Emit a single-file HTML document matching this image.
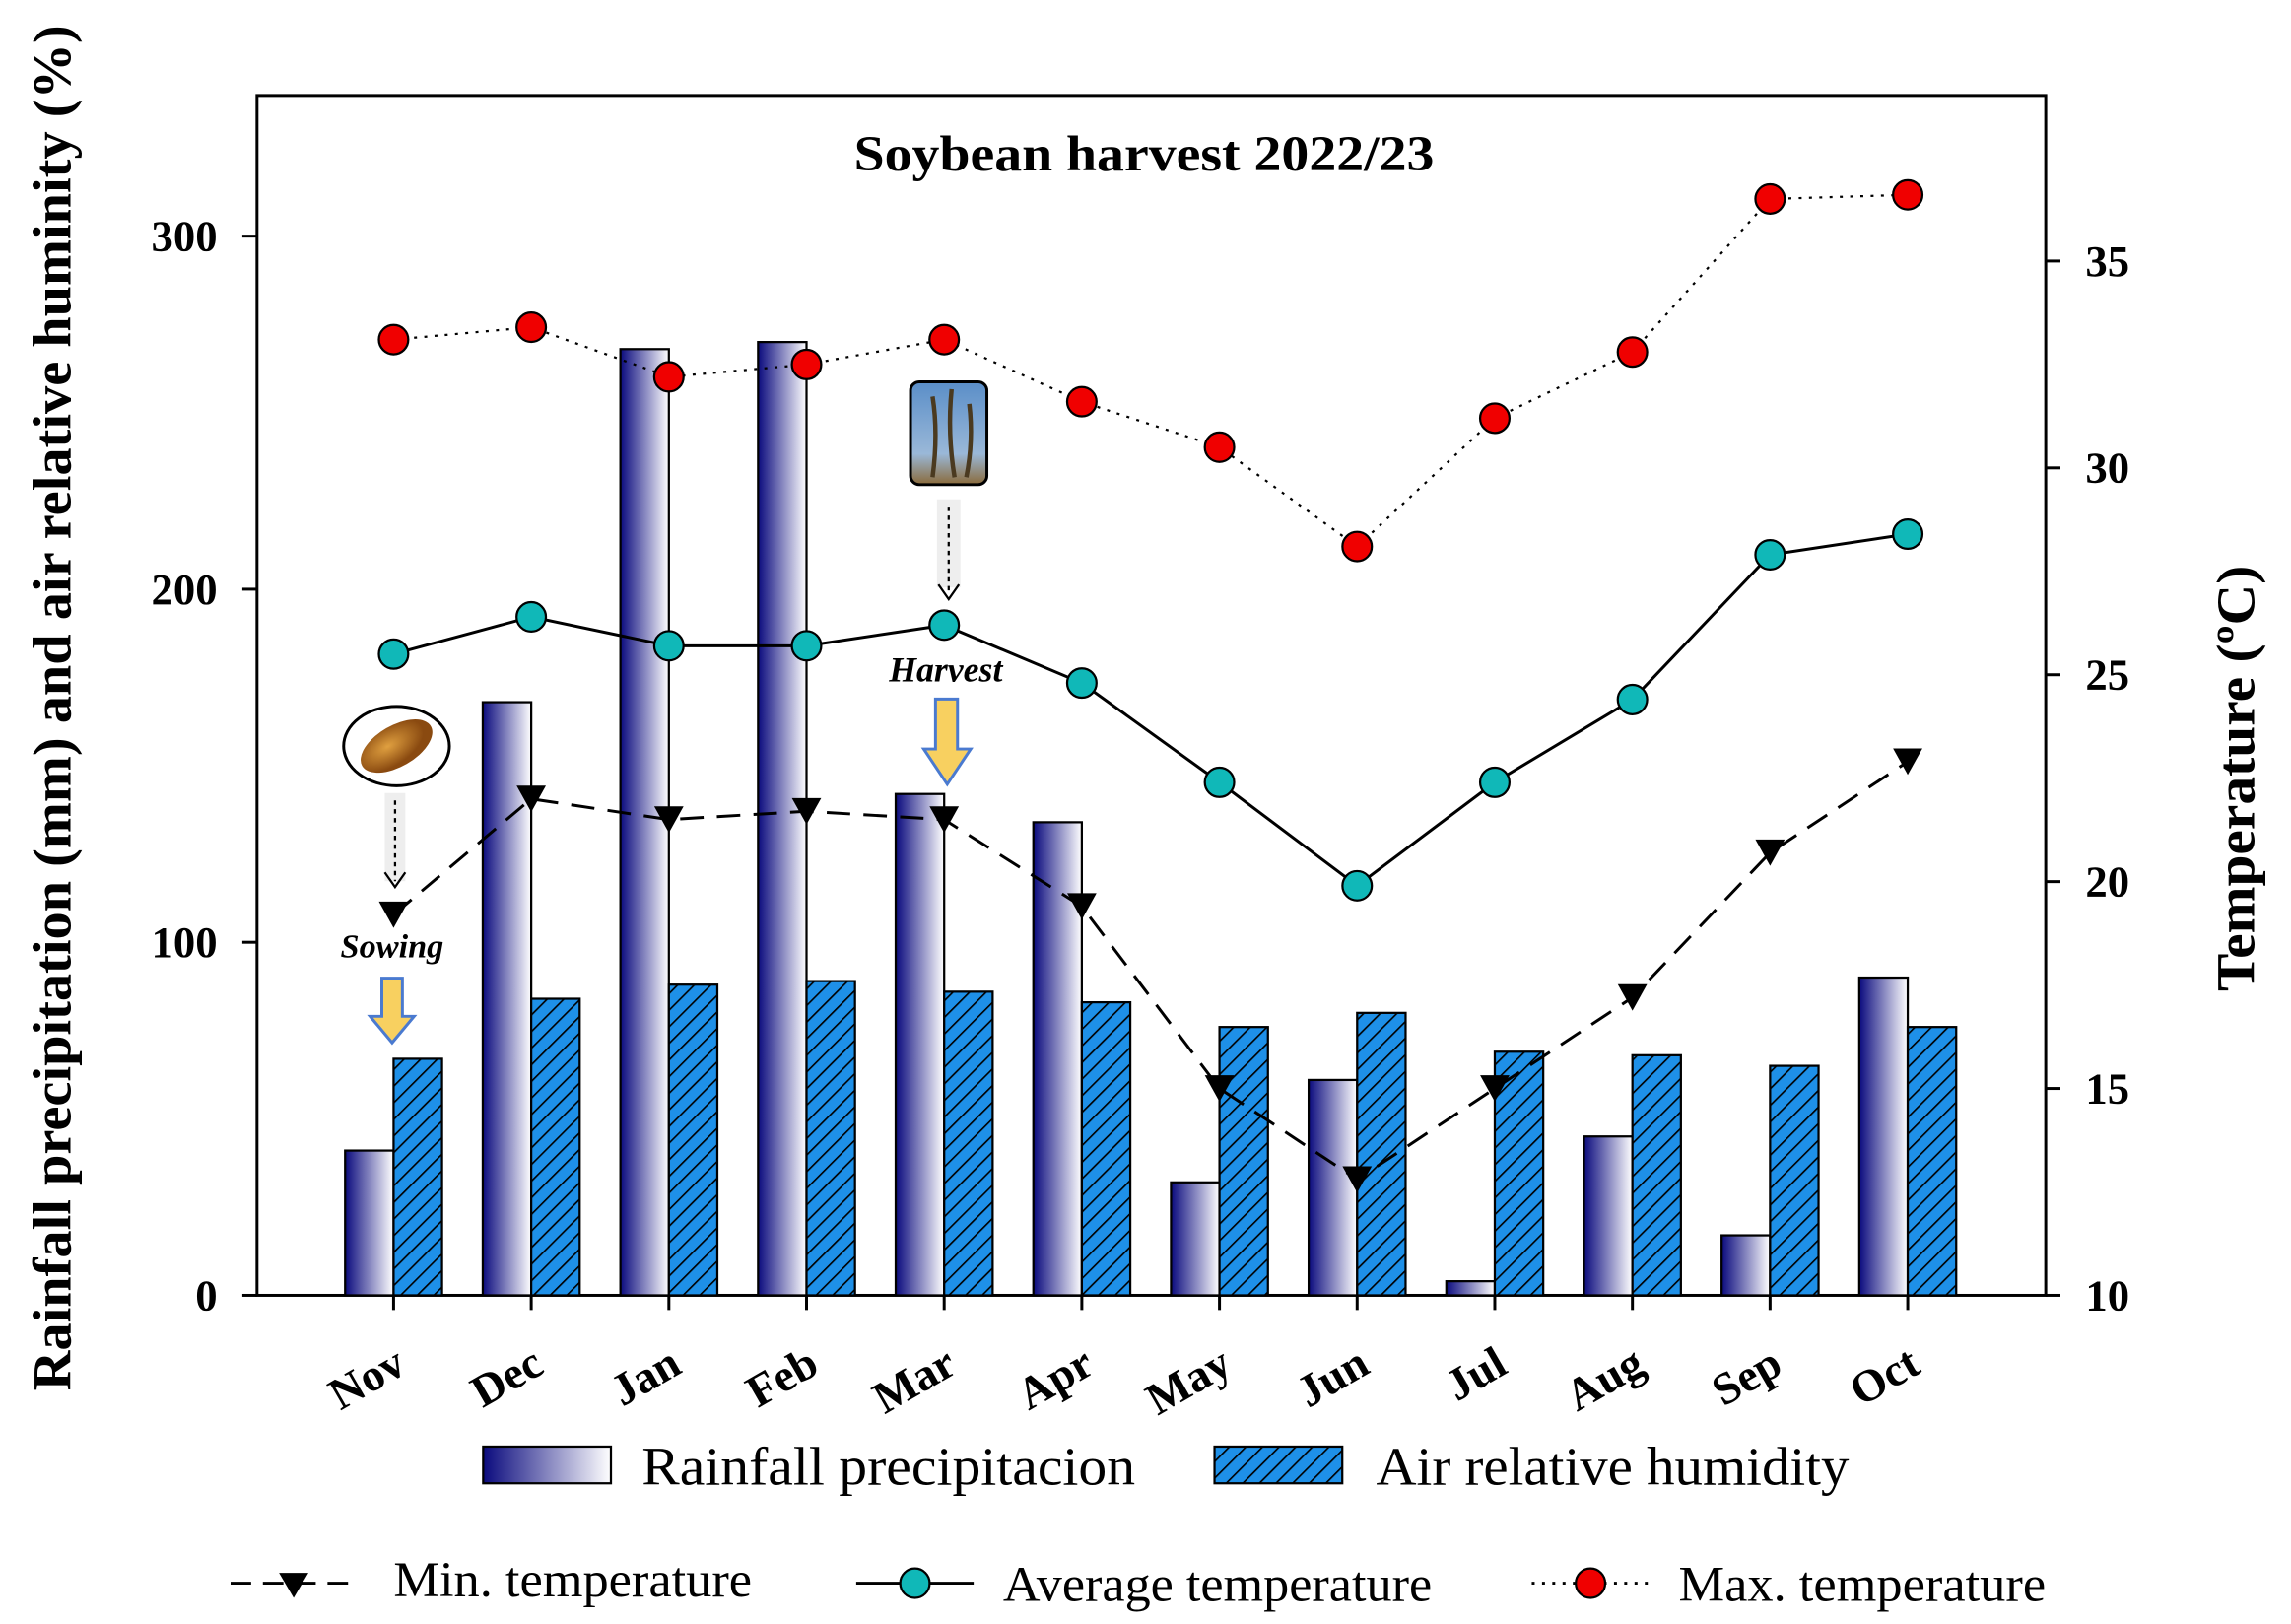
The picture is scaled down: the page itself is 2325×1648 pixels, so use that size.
<!DOCTYPE html>
<html><head><meta charset="utf-8"><style>
html,body{margin:0;padding:0;background:#fff;}
svg{display:block;font-family:"Liberation Serif",serif;}
</style></head><body>
<svg id="chart" width="2325" height="1648" viewBox="0 0 1560 1105.8" preserveAspectRatio="none" xmlns="http://www.w3.org/2000/svg">
<defs>
<linearGradient id="rainGrad" x1="0" x2="1" y1="0" y2="0"><stop offset="0" stop-color="#0b0b7e"/><stop offset="1" stop-color="#ffffff"/></linearGradient>
<pattern id="hatch" width="8" height="8" patternUnits="userSpaceOnUse" patternTransform="rotate(45)"><rect width="8" height="8" fill="#1e90e8"/><line x1="0" y1="0" x2="0" y2="8" stroke="#000" stroke-width="2.2"/></pattern>
<radialGradient id="bean" cx="0.4" cy="0.4"><stop offset="0" stop-color="#e0a040"/><stop offset="1" stop-color="#8a4a10"/></radialGradient>
<linearGradient id="sky" x1="0" y1="0" x2="0" y2="1"><stop offset="0" stop-color="#5a8ec8"/><stop offset="0.7" stop-color="#9ab8d8"/><stop offset="1" stop-color="#8a6a3a"/></linearGradient>
</defs>
<rect x="175" y="65" width="1218" height="817" fill="none" stroke="#000" stroke-width="2"/>
<text x="779" y="116" text-anchor="middle" font-size="34" font-weight="bold" textLength="395" lengthAdjust="spacingAndGlyphs">Soybean harvest 2022/23</text>
<g id="leftAxis"></g><g id="rightAxis"></g><g id="bars"></g><g id="lines"></g><g id="months"></g>
<text transform="translate(48,482) rotate(-90)" text-anchor="middle" font-size="37" font-weight="bold" textLength="930" lengthAdjust="spacingAndGlyphs">Rainfall precipitation (mm) and air relative huminity (%)</text>
<text transform="translate(1535,530) rotate(-90)" text-anchor="middle" font-size="37" font-weight="bold" textLength="290" lengthAdjust="spacingAndGlyphs">Temperature (ºC)</text>
<g>
<ellipse cx="270" cy="508" rx="36" ry="27" fill="#fff" stroke="#000" stroke-width="2"/>
<ellipse cx="270" cy="508" rx="27" ry="14" fill="url(#bean)" transform="rotate(-30 270 508)"/>
<rect x="262" y="540" width="14" height="60" fill="#eee"/>
<line x1="269" y1="545" x2="269" y2="600" stroke="#000" stroke-width="1.5" stroke-dasharray="3,3"/>
<path d="M262,594 L269,604 L276,594" fill="none" stroke="#000" stroke-width="1.5"/>
<text x="267" y="652" text-anchor="middle" font-size="23" font-style="italic" font-weight="bold">Sowing</text>
<path d="M260,666 h14 v26 h8 l-15,18 l-15,-18 h8 z" fill="#f8d060" stroke="#4a7ad0" stroke-width="2"/>
</g>
<g>
<rect x="620" y="260" width="52" height="70" rx="6" fill="url(#sky)" stroke="#000" stroke-width="2"/>
<path d="M635,270 q4,25 0,55 M648,265 q-3,30 2,60 M660,275 q3,25 -2,50" stroke="#4a3a20" stroke-width="3" fill="none"/>
<rect x="638" y="340" width="16" height="60" fill="#eee"/>
<line x1="646" y1="345" x2="646" y2="405" stroke="#000" stroke-width="1.5" stroke-dasharray="3,3"/>
<path d="M639,398 L646,408 L653,398" fill="none" stroke="#000" stroke-width="1.5"/>
<text x="644" y="464" text-anchor="middle" font-size="24" font-style="italic" font-weight="bold">Harvest</text>
<path d="M637,476 h15 v34 h9 l-16,24 l-16,-24 h8 z" fill="#f8d060" stroke="#4a7ad0" stroke-width="2"/>
</g>
<g>
<g><rect x="329" y="985" width="87" height="25" fill="url(#rainGrad)" stroke="#000" stroke-width="1.5"/><text x="437" y="1011" font-size="37" textLength="336" lengthAdjust="spacingAndGlyphs">Rainfall precipitacion</text></g>
<g><rect x="827" y="985" width="87" height="25" fill="url(#hatch)" stroke="#000" stroke-width="1.5"/><text x="937" y="1011" font-size="37" textLength="322" lengthAdjust="spacingAndGlyphs">Air relative humidity</text></g>
<g><line x1="157" y1="1078" x2="237" y2="1078" stroke="#000" stroke-width="2" stroke-dasharray="14,8"/><path d="M190,1071 h20 l-10,17 z" fill="#000"/><text x="268" y="1087" font-size="34" textLength="244" lengthAdjust="spacingAndGlyphs">Min. temperature</text></g>
<g><line x1="583" y1="1078" x2="663" y2="1078" stroke="#000" stroke-width="2"/><circle cx="623" cy="1078" r="10" fill="#10b8b8" stroke="#000" stroke-width="1.5"/><text x="683" y="1090" font-size="34" textLength="292" lengthAdjust="spacingAndGlyphs">Average temperature</text></g>
<g><line x1="1043" y1="1078" x2="1123" y2="1078" stroke="#000" stroke-width="2" stroke-dasharray="2,5"/><circle cx="1083" cy="1078" r="10" fill="#f00000" stroke="#000" stroke-width="1.5"/><text x="1143" y="1090" font-size="34" textLength="250" lengthAdjust="spacingAndGlyphs">Max. temperature</text></g>
</g>
</svg>
<script>
const months = ["Nov","Dec","Jan","Feb","Mar","Apr","May","Jun","Jul","Aug","Sep","Oct"];
const rainfall = [41,168,268,270,142,134,32,61,4,45,17,90];
const humidity = [67,84,88,89,86,83,76,80,69,68,65,76];
const maxTemp = [33.1,33.4,32.2,32.5,33.1,31.6,30.5,28.1,31.2,32.8,36.5,36.6];
const avgTemp = [25.5,26.4,25.7,25.7,26.2,24.8,22.4,19.9,22.4,24.4,27.9,28.4];
const minTemp = [19.2,22.0,21.5,21.7,21.5,19.4,15.0,12.8,15.0,17.2,20.7,22.9];
const leftTicks = [0,100,200,300];
const rightTicks = [10,15,20,25,30,35];

const NS="http://www.w3.org/2000/svg";
const X0=175,X1=1393,YB=882;
const xC=i=>268+i*93.73;
const yL=v=>YB-v*2.404;
const yR=t=>YB-(t-10)*28.17;
function mk(tag,attrs,parent){const e=document.createElementNS(NS,tag);for(const k in attrs)e.setAttribute(k,attrs[k]);parent.appendChild(e);return e;}
const gl=document.getElementById('leftAxis'),gr=document.getElementById('rightAxis'),gb=document.getElementById('bars'),gln=document.getElementById('lines'),gm=document.getElementById('months');
leftTicks.forEach(v=>{
  const t=mk('line',{x1:X0-10,x2:X0,y1:yL(v),y2:yL(v),stroke:'#000','stroke-width':2},gl);
  
  
  const tx=mk('text',{x:X0-27,y:yL(v)+10,'text-anchor':'end','font-size':30,'font-weight':'bold'},gl);tx.textContent=v;
  
  
});
rightTicks.forEach(v=>{
  const t=mk('line',{x1:X1,x2:X1+10,y1:yR(v),y2:yR(v),stroke:'#000','stroke-width':2},gr);
  
  
  const tx=mk('text',{x:X1+27,y:yR(v)+10,'font-size':30,'font-weight':'bold'},gr);tx.textContent=v;
  
  
});
months.forEach((m,i)=>{
  const c=xC(i);
  const t=mk('line',{x1:c,x2:c,y1:YB,y2:YB+10,stroke:'#000','stroke-width':2},gm);
  
  
  const tx=mk('text',{x:c+10,y:YB+52,'text-anchor':'end','font-size':31,'font-weight':'bold',transform:`rotate(-30 ${c+10} ${YB+52})`},gm);tx.textContent=m;
  
  
  const r=mk('rect',{x:c-33,y:yL(rainfall[i]),width:33,height:YB-yL(rainfall[i]),fill:'url(#rainGrad)',stroke:'#000','stroke-width':1.5},gb);
  
  
  const h=mk('rect',{x:c,y:yL(humidity[i]),width:33,height:YB-yL(humidity[i]),fill:'url(#hatch)',stroke:'#000','stroke-width':1.5},gb);
  
  
});
function series(vals,dash,name){
  const p=mk('polyline',{points:vals.map((v,i)=>xC(i)+','+yR(v)).join(' '),fill:'none',stroke:'#000','stroke-width':dash==='2,5'?1.5:2,'stroke-dasharray':dash},gln);
  
  
}
series(maxTemp,'2,5','max-temp-line');
series(avgTemp,'none','avg-temp-line');
series(minTemp,'16,9','min-temp-line');
maxTemp.forEach((v,i)=>{const c=mk('circle',{cx:xC(i),cy:yR(v),r:10,fill:'#f00000',stroke:'#000','stroke-width':1.5},gln);
  
  });
avgTemp.forEach((v,i)=>{const c=mk('circle',{cx:xC(i),cy:yR(v),r:10,fill:'#10b8b8',stroke:'#000','stroke-width':1.5},gln);
  
  });
minTemp.forEach((v,i)=>{const x=xC(i),y=yR(v);const c=mk('path',{d:`M${x-10},${y-9} h20 l-10,18 z`,fill:'#000'},gln);
  
  });
</script>
</body></html>
